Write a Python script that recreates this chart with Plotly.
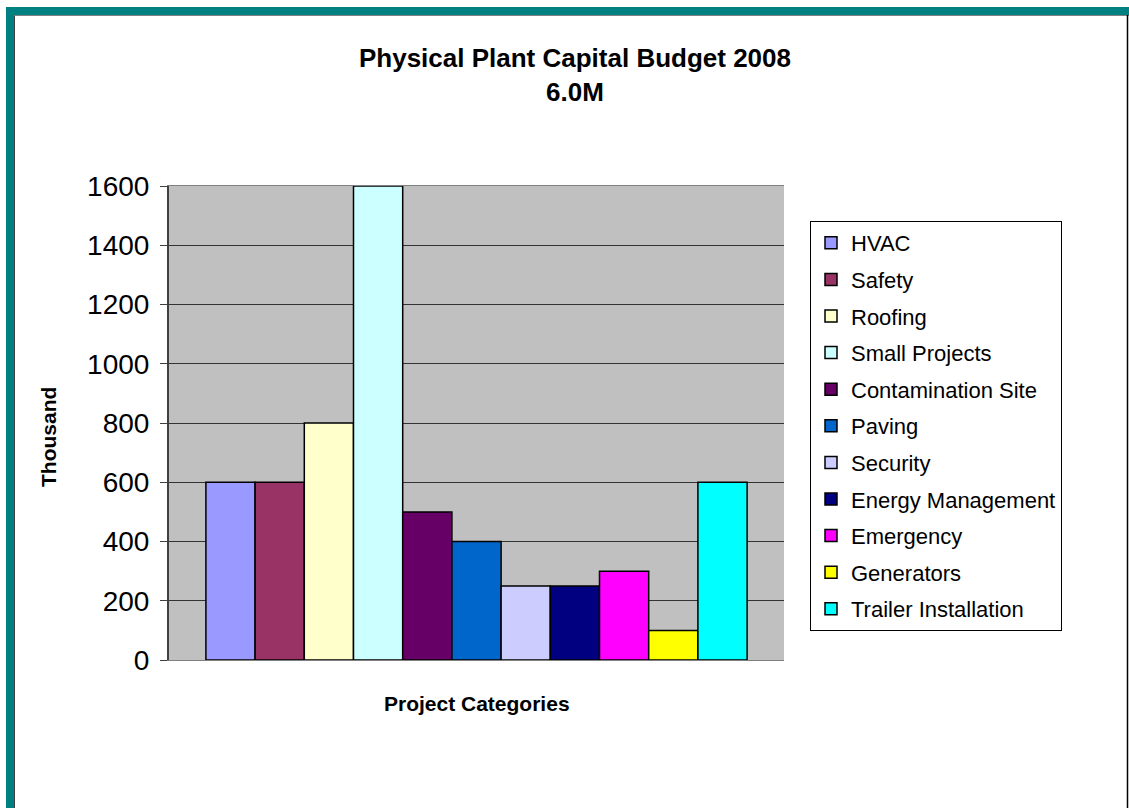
import plotly.graph_objects as go

# Budget per project category (thousands)
categories = ["HVAC", "Safety", "Roofing", "Small Projects", "Contamination Site", "Paving",
              "Security", "Energy Management", "Emergency", "Generators", "Trailer Installation"]
values = [600, 600, 800, 1600, 500, 400, 250, 250, 300, 100, 600]
colors = ["#9999FF", "#993366", "#FFFFCC", "#CCFFFF", "#660066", "#0066CC",
          "#CCCCFF", "#000080", "#FF00FF", "#FFFF00", "#00FFFF"]
y_ticks = [0, 200, 400, 600, 800, 1000, 1200, 1400, 1600]

W, H = 1129, 808
L, R, T, B = 169, 784, 186, 660  # plot area in pixels

def px(x):
    return (x - L) / (R - L)

def py(y):
    return (B - y) / (B - T)

fig = go.Figure()

# One trace per category so each gets its own legend entry
for cat, val, col in zip(categories, values, colors):
    fig.add_trace(go.Bar(
        x=["Project Categories"],
        y=[val],
        name=cat,
        legendgroup=cat,
        marker=dict(color=col, line=dict(color="black", width=1.5)),
    ))

font = "Arial, Liberation Sans, sans-serif"

# Teal frame around the chart sheet
shapes = [
    dict(type="rect", xref="paper", yref="paper", x0=px(6), x1=px(14), y0=py(820), y1=py(7),
         fillcolor="#008080", line=dict(width=0), layer="above"),
    dict(type="rect", xref="paper", yref="paper", x0=px(6), x1=px(1140), y0=py(15), y1=py(7),
         fillcolor="#008080", line=dict(width=0), layer="above"),
    dict(type="line", xref="paper", yref="paper", x0=px(14.5), x1=px(14.5), y0=py(820), y1=py(15),
         line=dict(color="#404040", width=1)),
    dict(type="line", xref="paper", yref="paper", x0=px(14), x1=px(1129), y0=py(15.5), y1=py(15.5),
         line=dict(color="#808080", width=1)),
    dict(type="line", xref="paper", yref="paper", x0=px(1127.5), x1=px(1127.5), y0=py(820), y1=py(15),
         line=dict(color="black", width=1.5)),
]

annotations = [
    dict(text="<b>Thousand</b>", textangle=-90, xref="paper", yref="paper",
         x=px(48), y=py(437), xanchor="center", yanchor="middle",
         showarrow=False, font=dict(size=21, family=font)),
    dict(text="<b>Project Categories</b>", xref="paper", yref="paper",
         x=px(477), y=py(703), xanchor="center", yanchor="middle",
         showarrow=False, font=dict(size=21, family=font)),
]

fig.update_layout(
    width=W, height=H,
    margin=dict(l=L, r=W - R, t=T, b=H - B, pad=0),
    paper_bgcolor="white",
    plot_bgcolor="#C0C0C0",
    barmode="group",
    bargap=0.12,
    bargroupgap=0,
    font=dict(family=font, color="black"),
    title=dict(
        text="<b>Physical Plant Capital Budget 2008<br>6.0M</b>",
        x=575 / W, xanchor="center",
        y=1 - 67 / H, yanchor="top",
        font=dict(size=26, family=font),
    ),
    xaxis=dict(
        showticklabels=False,
        ticks="",
        showgrid=False,
        showline=True, linecolor="#808080", linewidth=1, mirror=True,
    ),
    yaxis=dict(
        range=[0, 1600],
        tickvals=y_ticks,
        ticks="outside", ticklen=7, tickcolor="#404040", tickwidth=1,
        tickfont=dict(size=28),
        ticklabelstandoff=5,
        showgrid=True, gridcolor="#333333", gridwidth=1,
        zeroline=False,
        showline=True, linecolor="#404040", linewidth=2, mirror=False,
    ),
    legend=dict(
        x=px(810), y=py(221), xanchor="left", yanchor="top",
        bgcolor="white", bordercolor="black", borderwidth=1,
        font=dict(size=22),
        tracegroupgap=5,
        traceorder="grouped",
    ),
    shapes=shapes,
    annotations=annotations,
    showlegend=True,
)

fig.write_html("out.html", config={"displayModeBar": False},
               post_script="document.body.style.margin='0';document.body.style.overflow='hidden';")
